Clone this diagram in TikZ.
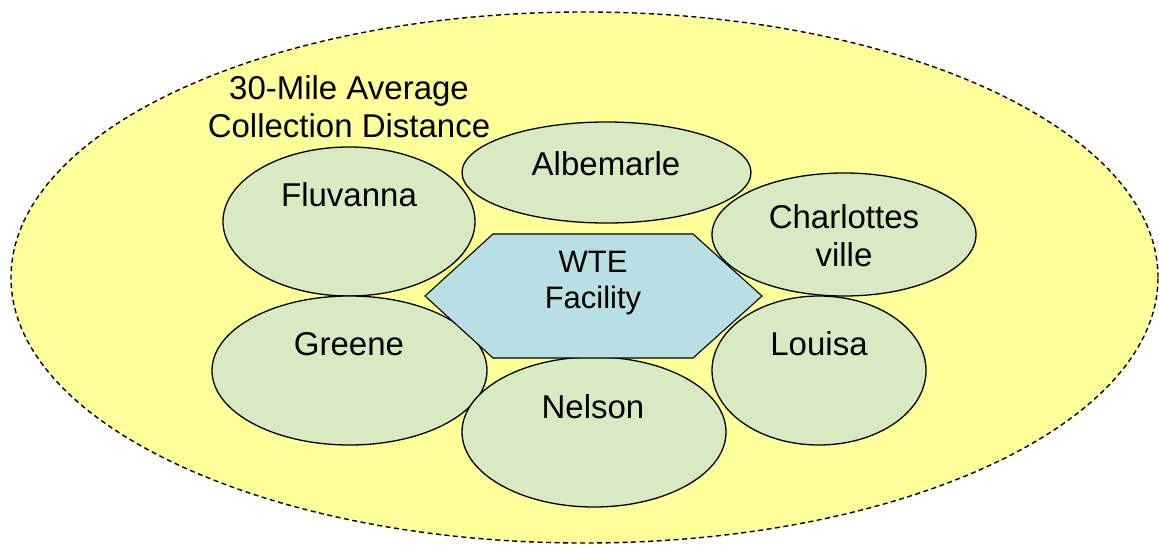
\documentclass[tikz,border=0pt]{standalone}
\usepackage{fontspec}
\setmainfont{Liberation Sans}
\usetikzlibrary{shapes.geometric}
\definecolor{zoneyellow}{HTML}{FFFF99}
\definecolor{countygreen}{HTML}{D8EAC2}
\definecolor{hexblue}{HTML}{B8DFE3}
\begin{document}
\begin{tikzpicture}[x=1pt,y=-1pt,
  zone/.style={ellipse, draw=black, fill=zoneyellow, dash pattern=on 5pt off 3.5pt, line width=1.4pt, inner sep=0pt, outer sep=0pt},
  county/.style={ellipse, draw=black, fill=countygreen, line width=1.3pt, inner sep=0pt, outer sep=0pt},
  hexbox/.style={draw=black, fill=hexblue, line width=1.1pt, line join=miter},
  lbl/.style={inner sep=0pt, outer sep=0pt, text=black, font=\fontsize{33}{38}\selectfont, align=center},
  hexlbl/.style={inner sep=0pt, outer sep=0pt, text=black, font=\fontsize{31}{36}\selectfont, align=center}]
\useasboundingbox (0,0) rectangle (1159,546);
% outer collection zone
\node[zone, minimum width=1147pt, minimum height=531pt] (zone) at (584.5,277.5) {};
% counties
\node[county, minimum width=289pt, minimum height=101pt] (albemarle) at (606.5,172.5) {};
\node[county, minimum width=252pt, minimum height=149pt] (fluvanna) at (349,221.5) {};
\node[county, minimum width=264pt, minimum height=123pt] (charlottesville) at (844,234.5) {};
\node[county, minimum width=275pt, minimum height=149pt] (greene) at (349.5,370.5) {};
\node[county, minimum width=214pt, minimum height=149pt] (louisa) at (819,370.5) {};
\node[county, minimum width=264pt, minimum height=150pt] (nelson) at (594,432) {};
% WTE facility hexagon
\draw[hexbox] (425,296) -- (493,234) -- (693,234) -- (762,296) -- (693,358) -- (493,358) -- cycle;
% labels
\node[lbl] (zonelabel) at (349,107.2) {30-Mile Average\\Collection Distance};
\node[lbl, anchor=base] (fluvannalabel) at (349,206.5) {Fluvanna};
\node[lbl, anchor=base] (albemarlelabel) at (606,175.5) {Albemarle};
\node[lbl] (charlottesvillelabel) at (844,235.7) {Charlottes\\ville};
\node[lbl, anchor=base] (greenelabel) at (349,355) {Greene};
\node[lbl, anchor=base] (louisalabel) at (819,355) {Louisa};
\node[lbl, anchor=base] (nelsonlabel) at (593,418) {Nelson};
\node[hexlbl] (wtelabel) at (593,283.2) {WTE\\Facility};
\end{tikzpicture}
\end{document}
